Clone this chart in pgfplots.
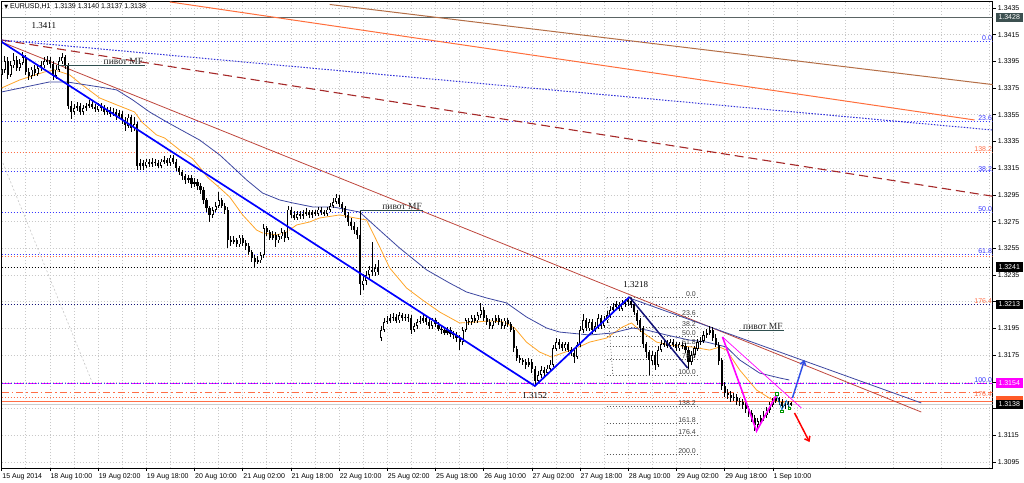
\documentclass[border=0pt]{standalone}
\usepackage{fontspec}
\setmainfont{Liberation Sans}
\newfontfamily\seriffont{Liberation Serif}
\newfontfamily\symfont{DejaVu Sans}
\usepackage{pgfplots}
\pgfplotsset{compat=1.18}
\usepackage{pgfplotstable}
\usetikzlibrary{arrows.meta}
\definecolor{mtblue}{RGB}{55,55,255}
\definecolor{mtorange}{RGB}{255,110,70}
\definecolor{mtnavy}{RGB}{20,20,120}
\definecolor{mttan}{RGB}{180,110,70}
\definecolor{mtcoral}{RGB}{255,110,60}
\definecolor{mtbrown}{RGB}{165,40,40}
\definecolor{mtred}{RGB}{190,70,60}
\definecolor{mtslate}{RGB}{60,70,160}
\definecolor{mtma}{RGB}{255,165,40}
\definecolor{mtmag}{RGB}{255,0,255}
\definecolor{mtgrid}{RGB}{200,200,200}
\definecolor{mtpivot}{RGB}{47,79,79}
\definecolor{mtarrow}{RGB}{50,80,230}

\pgfplotstableread{
i o h l c
0 1.3385 1.3393 1.3381 1.3389
1 1.3389 1.3399 1.3386 1.3395
2 1.3395 1.3398 1.3382 1.3385
3 1.3385 1.3395 1.3383 1.3392
4 1.3392 1.3401 1.3390 1.3396
5 1.3396 1.3399 1.3388 1.3390
6 1.3390 1.3397 1.3388 1.3394
7 1.3394 1.3402 1.3392 1.3398
8 1.3398 1.3400 1.3385 1.3387
9 1.3387 1.3390 1.3381 1.3384
10 1.3384 1.3391 1.3382 1.3389
11 1.3389 1.3392 1.3384 1.3386
12 1.3386 1.3393 1.3384 1.3390
13 1.3390 1.3395 1.3388 1.3392
14 1.3392 1.3398 1.3390 1.3395
15 1.3395 1.3399 1.3392 1.3396
16 1.3396 1.3398 1.3390 1.3393
17 1.3393 1.3395 1.3381 1.3384
18 1.3384 1.3392 1.3382 1.3389
19 1.3389 1.3398 1.3387 1.3395
20 1.3395 1.3401 1.3393 1.3398
21 1.3398 1.3400 1.3389 1.3392
22 1.3392 1.3394 1.3359 1.3362
23 1.3362 1.3365 1.3352 1.3357
24 1.3357 1.3363 1.3355 1.3360
25 1.3360 1.3365 1.3358 1.3362
26 1.3362 1.3364 1.3355 1.3357
27 1.3357 1.3362 1.3355 1.3360
28 1.3360 1.3364 1.3358 1.3362
29 1.3362 1.3366 1.3360 1.3363
30 1.3363 1.3365 1.3359 1.3361
31 1.3361 1.3363 1.3357 1.3359
32 1.3359 1.3364 1.3357 1.3362
33 1.3362 1.3364 1.3358 1.3360
34 1.3360 1.3362 1.3355 1.3357
35 1.3357 1.3361 1.3355 1.3359
36 1.3359 1.3361 1.3353 1.3356
37 1.3356 1.3360 1.3354 1.3357
38 1.3357 1.3359 1.3351 1.3354
39 1.3354 1.3359 1.3352 1.3356
40 1.3356 1.3358 1.3348 1.3351
41 1.3351 1.3353 1.3343 1.3347
42 1.3347 1.3356 1.3345 1.3353
43 1.3353 1.3355 1.3342 1.3345
44 1.3345 1.3353 1.3343 1.3348
45 1.3348 1.3350 1.3314 1.3317
46 1.3317 1.3322 1.3314 1.3319
47 1.3319 1.3321 1.3314 1.3317
48 1.3317 1.3322 1.3315 1.3320
49 1.3320 1.3322 1.3316 1.3318
50 1.3318 1.3323 1.3316 1.3320
51 1.3320 1.3322 1.3317 1.3319
52 1.3319 1.3321 1.3315 1.3317
53 1.3317 1.3322 1.3315 1.3320
54 1.3320 1.3324 1.3318 1.3321
55 1.3321 1.3323 1.3317 1.3319
56 1.3319 1.3325 1.3317 1.3323
57 1.3323 1.3325 1.3318 1.3320
58 1.3320 1.3322 1.3313 1.3315
59 1.3315 1.3317 1.3310 1.3312
60 1.3312 1.3314 1.3306 1.3309
61 1.3309 1.3311 1.3303 1.3306
62 1.3306 1.3310 1.3304 1.3308
63 1.3308 1.3310 1.3300 1.3303
64 1.3303 1.3308 1.3301 1.3305
65 1.3305 1.3307 1.3299 1.3302
66 1.3302 1.3304 1.3296 1.3299
67 1.3299 1.3301 1.3288 1.3291
68 1.3291 1.3293 1.3282 1.3285
69 1.3285 1.3287 1.3275 1.3280
70 1.3280 1.3286 1.3278 1.3284
71 1.3284 1.3290 1.3282 1.3287
72 1.3287 1.3297 1.3285 1.3291
73 1.3291 1.3293 1.3285 1.3287
74 1.3287 1.3289 1.3281 1.3284
75 1.3284 1.3286 1.3255 1.3261
76 1.3261 1.3264 1.3257 1.3260
77 1.3260 1.3264 1.3258 1.3261
78 1.3261 1.3263 1.3256 1.3258
79 1.3258 1.3265 1.3256 1.3263
80 1.3263 1.3265 1.3257 1.3259
81 1.3259 1.3261 1.3254 1.3257
82 1.3257 1.3259 1.3250 1.3252
83 1.3252 1.3254 1.3245 1.3248
84 1.3248 1.3250 1.3241 1.3245
85 1.3245 1.3249 1.3243 1.3246
86 1.3246 1.3252 1.3244 1.3250
87 1.3250 1.3273 1.3248 1.3270
88 1.3270 1.3272 1.3264 1.3267
89 1.3267 1.3269 1.3261 1.3263
90 1.3263 1.3268 1.3261 1.3265
91 1.3265 1.3267 1.3256 1.3261
92 1.3261 1.3266 1.3259 1.3264
93 1.3264 1.3270 1.3262 1.3267
94 1.3267 1.3269 1.3260 1.3263
95 1.3263 1.3287 1.3261 1.3284
96 1.3284 1.3286 1.3278 1.3280
97 1.3280 1.3283 1.3276 1.3278
98 1.3278 1.3283 1.3276 1.3281
99 1.3281 1.3283 1.3277 1.3279
100 1.3279 1.3284 1.3277 1.3281
101 1.3281 1.3285 1.3279 1.3282
102 1.3282 1.3284 1.3278 1.3280
103 1.3280 1.3284 1.3278 1.3282
104 1.3282 1.3284 1.3279 1.3281
105 1.3281 1.3286 1.3279 1.3284
106 1.3284 1.3286 1.3280 1.3282
107 1.3282 1.3284 1.3279 1.3281
108 1.3281 1.3286 1.3279 1.3284
109 1.3284 1.3289 1.3282 1.3287
110 1.3287 1.3293 1.3285 1.3290
111 1.3290 1.3296 1.3288 1.3293
112 1.3293 1.3295 1.3286 1.3288
113 1.3288 1.3290 1.3282 1.3285
114 1.3285 1.3287 1.3278 1.3280
115 1.3280 1.3282 1.3272 1.3275
116 1.3275 1.3278 1.3269 1.3272
117 1.3272 1.3275 1.3266 1.3269
118 1.3269 1.3271 1.3262 1.3265
119 1.3265 1.3283 1.3220 1.3228
120 1.3228 1.3236 1.3224 1.3231
121 1.3231 1.3238 1.3228 1.3235
122 1.3235 1.3242 1.3232 1.3239
123 1.3239 1.3260 1.3234 1.3237
124 1.3237 1.3243 1.3234 1.3240
125 1.3240 1.3246 1.3235 1.3237
126 1.3188 1.3197 1.3186 1.3194
127 1.3194 1.3203 1.3192 1.3200
128 1.3200 1.3204 1.3198 1.3201
129 1.3201 1.3206 1.3199 1.3203
130 1.3203 1.3207 1.3201 1.3204
131 1.3204 1.3206 1.3199 1.3201
132 1.3201 1.3207 1.3199 1.3205
133 1.3205 1.3207 1.3201 1.3203
134 1.3203 1.3206 1.3201 1.3204
135 1.3204 1.3206 1.3200 1.3203
136 1.3203 1.3205 1.3191 1.3194
137 1.3194 1.3199 1.3192 1.3197
138 1.3197 1.3202 1.3195 1.3200
139 1.3200 1.3204 1.3198 1.3201
140 1.3201 1.3205 1.3199 1.3203
141 1.3203 1.3205 1.3198 1.3200
142 1.3200 1.3202 1.3195 1.3197
143 1.3197 1.3203 1.3195 1.3201
144 1.3201 1.3203 1.3196 1.3198
145 1.3198 1.3200 1.3193 1.3195
146 1.3195 1.3197 1.3191 1.3194
147 1.3194 1.3196 1.3190 1.3192
148 1.3192 1.3196 1.3190 1.3194
149 1.3194 1.3196 1.3189 1.3191
150 1.3191 1.3193 1.3187 1.3190
151 1.3190 1.3192 1.3185 1.3188
152 1.3188 1.3190 1.3179 1.3185
153 1.3185 1.3196 1.3183 1.3194
154 1.3194 1.3203 1.3192 1.3201
155 1.3201 1.3203 1.3198 1.3200
156 1.3200 1.3205 1.3198 1.3203
157 1.3203 1.3205 1.3199 1.3201
158 1.3201 1.3207 1.3199 1.3205
159 1.3205 1.3214 1.3203 1.3209
160 1.3209 1.3211 1.3201 1.3203
161 1.3203 1.3205 1.3198 1.3200
162 1.3200 1.3202 1.3195 1.3197
163 1.3197 1.3203 1.3195 1.3201
164 1.3201 1.3205 1.3199 1.3203
165 1.3203 1.3205 1.3198 1.3200
166 1.3200 1.3202 1.3195 1.3197
167 1.3197 1.3203 1.3195 1.3201
168 1.3201 1.3203 1.3196 1.3198
169 1.3198 1.3200 1.3192 1.3194
170 1.3194 1.3196 1.3177 1.3180
171 1.3180 1.3182 1.3171 1.3173
172 1.3173 1.3175 1.3169 1.3171
173 1.3171 1.3173 1.3168 1.3170
174 1.3170 1.3172 1.3165 1.3168
175 1.3168 1.3173 1.3166 1.3170
176 1.3170 1.3172 1.3162 1.3165
177 1.3165 1.3167 1.3152 1.3156
178 1.3156 1.3163 1.3154 1.3160
179 1.3160 1.3167 1.3158 1.3164
180 1.3164 1.3166 1.3159 1.3162
181 1.3162 1.3168 1.3160 1.3165
182 1.3165 1.3171 1.3163 1.3168
183 1.3168 1.3183 1.3166 1.3180
184 1.3180 1.3188 1.3178 1.3185
185 1.3185 1.3187 1.3180 1.3183
186 1.3183 1.3185 1.3178 1.3180
187 1.3180 1.3185 1.3178 1.3183
188 1.3183 1.3185 1.3177 1.3179
189 1.3179 1.3181 1.3174 1.3177
190 1.3177 1.3179 1.3169 1.3174
191 1.3174 1.3185 1.3172 1.3183
192 1.3183 1.3197 1.3181 1.3194
193 1.3194 1.3206 1.3192 1.3201
194 1.3201 1.3203 1.3193 1.3195
195 1.3195 1.3202 1.3193 1.3200
196 1.3200 1.3202 1.3191 1.3194
197 1.3194 1.3200 1.3192 1.3197
198 1.3197 1.3206 1.3195 1.3203
199 1.3203 1.3205 1.3195 1.3197
200 1.3197 1.3204 1.3195 1.3201
201 1.3201 1.3208 1.3199 1.3205
202 1.3205 1.3212 1.3203 1.3209
203 1.3209 1.3214 1.3207 1.3211
204 1.3211 1.3216 1.3209 1.3213
205 1.3213 1.3215 1.3208 1.3210
206 1.3210 1.3216 1.3208 1.3213
207 1.3213 1.3217 1.3211 1.3215
208 1.3215 1.3218 1.3212 1.3216
209 1.3216 1.3218 1.3210 1.3213
210 1.3213 1.3215 1.3205 1.3207
211 1.3207 1.3209 1.3198 1.3201
212 1.3201 1.3203 1.3192 1.3195
213 1.3195 1.3197 1.3180 1.3183
214 1.3183 1.3185 1.3173 1.3177
215 1.3177 1.3179 1.3160 1.3171
216 1.3171 1.3178 1.3168 1.3175
217 1.3175 1.3177 1.3164 1.3168
218 1.3168 1.3182 1.3166 1.3179
219 1.3179 1.3186 1.3177 1.3183
220 1.3183 1.3187 1.3181 1.3184
221 1.3184 1.3186 1.3180 1.3182
222 1.3182 1.3187 1.3180 1.3185
223 1.3185 1.3187 1.3181 1.3183
224 1.3183 1.3185 1.3178 1.3180
225 1.3180 1.3185 1.3178 1.3183
226 1.3183 1.3185 1.3180 1.3182
227 1.3182 1.3184 1.3177 1.3179
228 1.3179 1.3181 1.3165 1.3170
229 1.3170 1.3178 1.3168 1.3175
230 1.3175 1.3182 1.3173 1.3180
231 1.3180 1.3187 1.3178 1.3185
232 1.3185 1.3189 1.3183 1.3186
233 1.3186 1.3193 1.3184 1.3190
234 1.3190 1.3195 1.3188 1.3192
235 1.3192 1.3197 1.3190 1.3194
236 1.3194 1.3196 1.3186 1.3188
237 1.3188 1.3191 1.3181 1.3183
238 1.3183 1.3185 1.3168 1.3171
239 1.3171 1.3173 1.3149 1.3152
240 1.3152 1.3155 1.3144 1.3147
241 1.3147 1.3150 1.3142 1.3145
242 1.3145 1.3148 1.3140 1.3143
243 1.3143 1.3147 1.3141 1.3144
244 1.3144 1.3146 1.3138 1.3141
245 1.3141 1.3143 1.3137 1.3140
246 1.3140 1.3142 1.3135 1.3138
247 1.3138 1.3140 1.3132 1.3135
248 1.3135 1.3137 1.3129 1.3132
249 1.3132 1.3134 1.3125 1.3128
250 1.3128 1.3130 1.3118 1.3123
251 1.3123 1.3128 1.3120 1.3126
252 1.3126 1.3130 1.3123 1.3128
253 1.3128 1.3133 1.3126 1.3130
254 1.3130 1.3136 1.3128 1.3134
255 1.3134 1.3140 1.3132 1.3138
256 1.3138 1.3143 1.3136 1.3141
257 1.3141 1.3145 1.3139 1.3143
258 1.3143 1.3144 1.3138 1.3140
259 1.3140 1.3142 1.3135 1.3137
260 1.3137 1.3141 1.3135 1.3138
261 1.3138 1.3141 1.3136 1.3139
262 1.3139 1.3140 1.3137 1.3138
}\bars

\tikzset{
  lblue/.style={draw=mtblue, line width=1pt, dash pattern=on 1.5pt off 1.5pt},
  lorange/.style={draw=mtorange, line width=1pt, dash pattern=on 1.5pt off 1.5pt},
  fibc/.style={draw=gray!70!black, line width=0.6pt, dash pattern=on 1pt off 2pt},
  tiny/.style={font=\fontsize{7}{8}\selectfont, inner sep=0.6pt},
}

\begin{document}
\begin{tikzpicture}[x=1pt,y=1pt]
\useasboundingbox (0,0) rectangle (1024,482);
\begin{axis}[
  at={(1.7pt,14pt)}, anchor=south west,
  width=991pt, height=467pt, scale only axis,
  xmin=0, xmax=329, ymin=1.30905, ymax=1.34402,
  clip mode=individual,
  axis line style={black, line width=0.8pt},
  xtick={0,16,...,256},
  xticklabels={15 Aug 2014,18 Aug 10:00,19 Aug 02:00,19 Aug 18:00,20 Aug 10:00,21 Aug 02:00,21 Aug 18:00,22 Aug 10:00,25 Aug 02:00,25 Aug 18:00,26 Aug 10:00,27 Aug 02:00,27 Aug 18:00,28 Aug 10:00,29 Aug 02:00,29 Aug 18:00,1 Sep 10:00},
  minor xtick={8,24,...,328},
  ytick={1.3095,1.3115,1.3135,1.3155,1.3175,1.3195,1.3215,1.3235,1.3255,1.3275,1.3295,1.3315,1.3335,1.3355,1.3375,1.3395,1.3415,1.3435},
  yticklabels={1.3095,1.3115,,,1.3175,1.3195,,1.3235,1.3255,1.3275,1.3295,1.3315,1.3335,1.3355,1.3375,1.3395,1.3415,1.3435},
  scaled y ticks=false,
  /pgf/number format/assume math mode=true,
  yticklabel style={anchor=west, inner sep=0pt, xshift=2pt},
  xticklabel style={anchor=north west, inner sep=0pt, xshift=0.5pt, yshift=-2pt},
  tick label style={font=\fontsize{7}{8}\selectfont},
  xtick pos=lower, ytick pos=right,
  xticklabel pos=lower, yticklabel pos=right,
  tick align=outside, major tick length=3pt, minor tick length=0pt,
  every tick/.style={black, line width=0.6pt},
  grid=both,
  major grid style={draw=mtgrid, line width=0.6pt, dash pattern=on 1pt off 2pt},
  minor grid style={draw=mtgrid, line width=0.6pt, dash pattern=on 1pt off 2pt},
]
% horizontal levels
\addplot[draw={rgb,255:red,90;green,100;blue,100}, line width=1.1pt] coordinates {(0,1.3428) (329,1.3428)};
\addplot[lblue] coordinates {(0,1.3410) (329,1.3410)};
\addplot[lblue] coordinates {(0,1.3350) (329,1.3350)};
\addplot[lorange] coordinates {(0,1.33266) (329,1.33266)};
\addplot[lblue] coordinates {(0,1.33122) (329,1.33122)};
\addplot[lblue] coordinates {(0,1.32817) (329,1.32817)};
\addplot[lblue] coordinates {(0,1.32507) (329,1.32507)};
\addplot[lorange] coordinates {(0,1.32490) (329,1.32490)};
\addplot[black, line width=0.9pt, dash pattern=on 1.5pt off 1.5pt] coordinates {(0,1.3241) (329,1.3241)};
\addplot[mtnavy, line width=1.3pt, dash pattern=on 1.5pt off 1.5pt] coordinates {(0,1.3213) (329,1.3213)};
\addplot[mtmag, line width=1.3pt, dash pattern=on 9pt off 4pt] coordinates {(0,1.3154) (329,1.3154)};
\addplot[lblue] coordinates {(0,1.3154) (329,1.3154)};
\addplot[mtorange, line width=1.1pt, dash pattern=on 7pt off 3pt on 1.5pt off 3pt] coordinates {(0,1.31472) (329,1.31472)};
\addplot[lorange] coordinates {(0,1.31431) (329,1.31431)};
\addplot[draw={rgb,255:red,255;green,110;blue,70}, line width=1pt] coordinates {(0,1.3140) (329,1.3140)};
\addplot[draw={rgb,255:red,205;green,205;blue,205}, line width=1pt] coordinates {(0,1.3138) (329,1.3138)};
% diagonal lines
\addplot[mttan, line width=1pt] coordinates {(108.9,1.34376) (329,1.33776)};
\addplot[mtcoral, line width=1pt] coordinates {(55.8,1.34395) (323,1.33511)};
\addplot[mtbrown, line width=1.1pt, dash pattern=on 9pt off 5pt] coordinates {(0,1.34110) (329,1.32940)};
\addplot[mtblue!85!black, line width=1pt, dash pattern=on 1.5pt off 1.5pt] coordinates {(0,1.34110) (329,1.33436)};
\addplot[gray!45, line width=0.6pt, dash pattern=on 2pt off 2pt] coordinates {(0.4,1.33189) (30,1.31549)};
\addplot[mtred, line width=0.8pt] coordinates {(0,1.34095) (305.3,1.31324)};
\addplot[mtslate, line width=0.8pt] coordinates {(208.4,1.32178) (305.3,1.31392)};
% fibonacci (centre)
\addplot[fibc] coordinates {(200.9,1.32178) (202.9,1.31601)};
\foreach \lv in {1.3218,1.3204,1.3196,1.3189,1.3182,1.3172,1.3160,1.3137,1.3124,1.3115,1.3101} {
  \edef\tmp{\noexpand\addplot[fibc] coordinates {(200.8,\lv) (230.7,\lv)};}\tmp
}
% moving averages
\addplot[mtma, line width=0.8pt] coordinates {(0,1.33751) (6,1.33811) (14.3,1.33871) (17.6,1.33886) (22.6,1.33848) (25.9,1.33788) (32.5,1.33676) (38.2,1.33624) (44.1,1.33571) (46.5,1.33496) (51.4,1.33399) (54.1,1.33376) (59.1,1.33286) (63.4,1.33220) (66,1.33150) (68.4,1.33080) (72.4,1.33002) (75.7,1.32934) (80.0,1.32800) (84.6,1.32687) (86.6,1.32665) (91.3,1.32650) (94.6,1.32672) (97.9,1.32725) (102.2,1.32747) (105.5,1.32777) (112.2,1.32800) (115.5,1.32785) (121.1,1.32762) (125.5,1.32560) (128.8,1.32403) (134.4,1.32253) (139.7,1.32163) (145.4,1.32073) (152.0,1.31991) (157.0,1.31998) (162.0,1.32006) (166.9,1.31998) (170.3,1.31953) (174.2,1.31848) (178.6,1.31773) (182.5,1.31736) (186.2,1.31766) (190.8,1.31803) (195.2,1.31848) (200.8,1.31878) (206.1,1.31961) (209.1,1.31991) (211.7,1.31938) (217.4,1.31848) (221.7,1.31826) (229.3,1.31811) (235.0,1.31788) (238.3,1.31811) (240.6,1.31788) (245.0,1.31639) (250.6,1.31489) (255.9,1.31414) (259.9,1.31392)};
\addplot[mtslate, line width=0.8pt] coordinates {(0,1.33721) (15.9,1.33796) (21.6,1.33796) (32.5,1.33758) (38.2,1.33736) (43.5,1.33661) (49.1,1.33571) (54.8,1.33496) (61.4,1.33414) (65.7,1.33361) (72.4,1.33249) (76.7,1.33159) (81.3,1.33062) (86.6,1.32964) (92.3,1.32912) (96.6,1.32890) (103.2,1.32860) (109.9,1.32860) (118.8,1.32822) (126.5,1.32665) (132.1,1.32552) (141.1,1.32388) (148.7,1.32290) (154.3,1.32223) (161.0,1.32178) (167.6,1.32141) (174.2,1.32036) (180.9,1.31953) (185.2,1.31923) (195.2,1.31901) (202.8,1.31916) (209.4,1.31953) (214.1,1.31938) (220.7,1.31901) (228.3,1.31863) (234.0,1.31848) (240.6,1.31811) (245.0,1.31714) (251.6,1.31616) (258.3,1.31579) (261.5,1.31564)};
% candles
\addplot[draw=none, mark=none, error bars/.cd, y dir=both, y explicit, error mark=none, error bar style={draw=black, line width=0.7pt}] table[x=i, y expr={(\thisrow{h}+\thisrow{l})/2}, y error expr={(\thisrow{h}-\thisrow{l})/2}] {\bars};
\addplot[draw=none, mark=none, error bars/.cd, y dir=both, y explicit, error mark=none, error bar style={draw=black, line width=2.1pt}] table[x=i, y expr={(\thisrow{o}+\thisrow{c})/2}, y error expr={abs(\thisrow{c}-\thisrow{o})/2}] {\bars};
\addplot[draw=none, mark=none, restrict expr to domain={\thisrow{c}-\thisrow{o}}{0.00025:1}, error bars/.cd, y dir=both, y explicit, error mark=none, error bar style={draw=white, line width=0.7pt}] table[x=i, y expr={(\thisrow{o}+\thisrow{c})/2}, y error expr={(\thisrow{c}-\thisrow{o})/2-0.00006}] {\bars};
% trend lines
\addplot[blue, line width=1.7pt] coordinates {(0,1.34095) (177,1.31519) (208.4,1.32186)};
\addplot[mtnavy, line width=1.5pt] coordinates {(208.4,1.32186) (227.7,1.31654)};
\addplot[mtmag, line width=0.7pt] coordinates {(239.3,1.31886) (265.5,1.31354)};
\addplot[mtmag, line width=1.6pt] coordinates {(239.3,1.31886) (250.6,1.31182) (257.2,1.31451)};
\addplot[cyan!60!blue, line width=0.7pt] coordinates {(257.3,1.3145) (259,1.3134) (260.5,1.3141) (261.5,1.3136)};
\addplot[only marks, mark=square, mark size=1.3pt, draw={rgb,255:red,0;green,150;blue,0}, line width=0.8pt] coordinates {(257.3,1.3146) (259,1.3133) (261.5,1.3135)};
% pivot lines
\addplot[mtpivot, line width=1pt] coordinates {(18.7,1.33916) (47.6,1.33916)};
\addplot[mtpivot, line width=1pt] coordinates {(118.8,1.32830) (139.8,1.32830)};
\addplot[mtpivot, line width=1pt] coordinates {(244.9,1.31931) (259.6,1.31931)};
% arrows
\addplot[mtarrow, line width=1.5pt, -{Straight Barb[length=4pt,width=6pt]}] coordinates {(262.5,1.31429) (266.5,1.31714)};
\addplot[red, line width=1.5pt, -{Straight Barb[length=4pt,width=6pt]}] coordinates {(263.2,1.31317) (268.2,1.31099)};
% texts
\node[anchor=west, font=\fontsize{7}{8}\selectfont, inner sep=0pt] at (axis cs:0.8,1.34358) {{\symfont\fontsize{5}{5}\selectfont ▼}\ EURUSD,H1\ \ 1.3139 1.3140 1.3137 1.3138};
\node[font=\seriffont\fontsize{9}{10}\selectfont, inner sep=0pt] at (axis cs:14.0,1.34215) {1.3411};
\node[font=\seriffont\fontsize{9}{10}\selectfont, inner sep=0pt] at (axis cs:210.5,1.32275) {1.3218};
\node[font=\seriffont\fontsize{9}{10}\selectfont, inner sep=0pt] at (axis cs:177,1.31451) {1.3152};
\node[anchor=south east, font=\seriffont\fontsize{9.5}{10}\selectfont, inner sep=0.8pt, text=black!85] at (axis cs:47.3,1.33916) {пивот MF};
\node[anchor=south east, font=\seriffont\fontsize{9.5}{10}\selectfont, inner sep=0.8pt, text=black!85] at (axis cs:139.8,1.32830) {пивот MF};
\node[anchor=south east, font=\seriffont\fontsize{9.5}{10}\selectfont, inner sep=0.8pt, text=black!85] at (axis cs:259.6,1.31931) {пивот MF};
% fib centre labels
\foreach \lv/\tx in {1.3218/0.0,1.3204/23.6,1.3196/38.2,1.3189/50.0,1.3182/61.8,1.3172/78.6,1.3160/100.0,1.3137/138.2,1.3124/161.8,1.3115/176.4,1.3101/200.0} {
  \edef\tmp{\noexpand\node[tiny, anchor=south east, text=black!75] at (axis cs:230.7,\lv) {\tx};}\tmp
}
% right fib labels
\node[tiny, anchor=south east, text=mtblue] at (axis cs:329,1.3410) {0.0};
\node[tiny, anchor=south east, text=mtblue] at (axis cs:329,1.3350) {23.6};
\node[tiny, anchor=south east, text=mtorange] at (axis cs:329,1.33266) {138.2};
\node[tiny, anchor=south east, text=mtblue] at (axis cs:329,1.33122) {38.2};
\node[tiny, anchor=south east, text=mtblue] at (axis cs:329,1.32817) {50.0};
\node[tiny, anchor=south east, text=mtblue] at (axis cs:329,1.32507) {61.8};
\node[tiny, anchor=south east, text=mtorange] at (axis cs:329,1.3213) {176.4};
\node[tiny, anchor=south east, text=mtblue] at (axis cs:329,1.3154) {100.0};
\node[tiny, anchor=south east, text=mtorange] at (axis cs:329,1.31431) {176.4};
\coordinate (b1) at (axis cs:329,1.3428);
\coordinate (b2) at (axis cs:329,1.3241);
\coordinate (b3) at (axis cs:329,1.3213);
\coordinate (b4) at (axis cs:329,1.3154);
\coordinate (b5) at (axis cs:329,1.31405);
\coordinate (b6) at (axis cs:329,1.3138);
\end{axis}
\tikzset{pbox/.style={anchor=west, xshift=2.8pt, font=\fontsize{7}{8}\selectfont, text=white, inner sep=0pt, minimum width=27pt, minimum height=9.5pt}}
\node[pbox, fill={rgb,255:red,60;green,80;blue,80}] at (b1) {1.3428};
\node[pbox, fill=black] at (b2) {1.3241};
\node[pbox, fill=black] at (b3) {1.3213};
\node[pbox, fill=mtmag] at (b4) {1.3154};
\node[pbox, fill={rgb,255:red,255;green,90;blue,40}, yshift=2.5pt, minimum height=5pt] at (b5) {};
\node[pbox, fill=black] at (b6) {1.3138};
\end{tikzpicture}
\end{document}
